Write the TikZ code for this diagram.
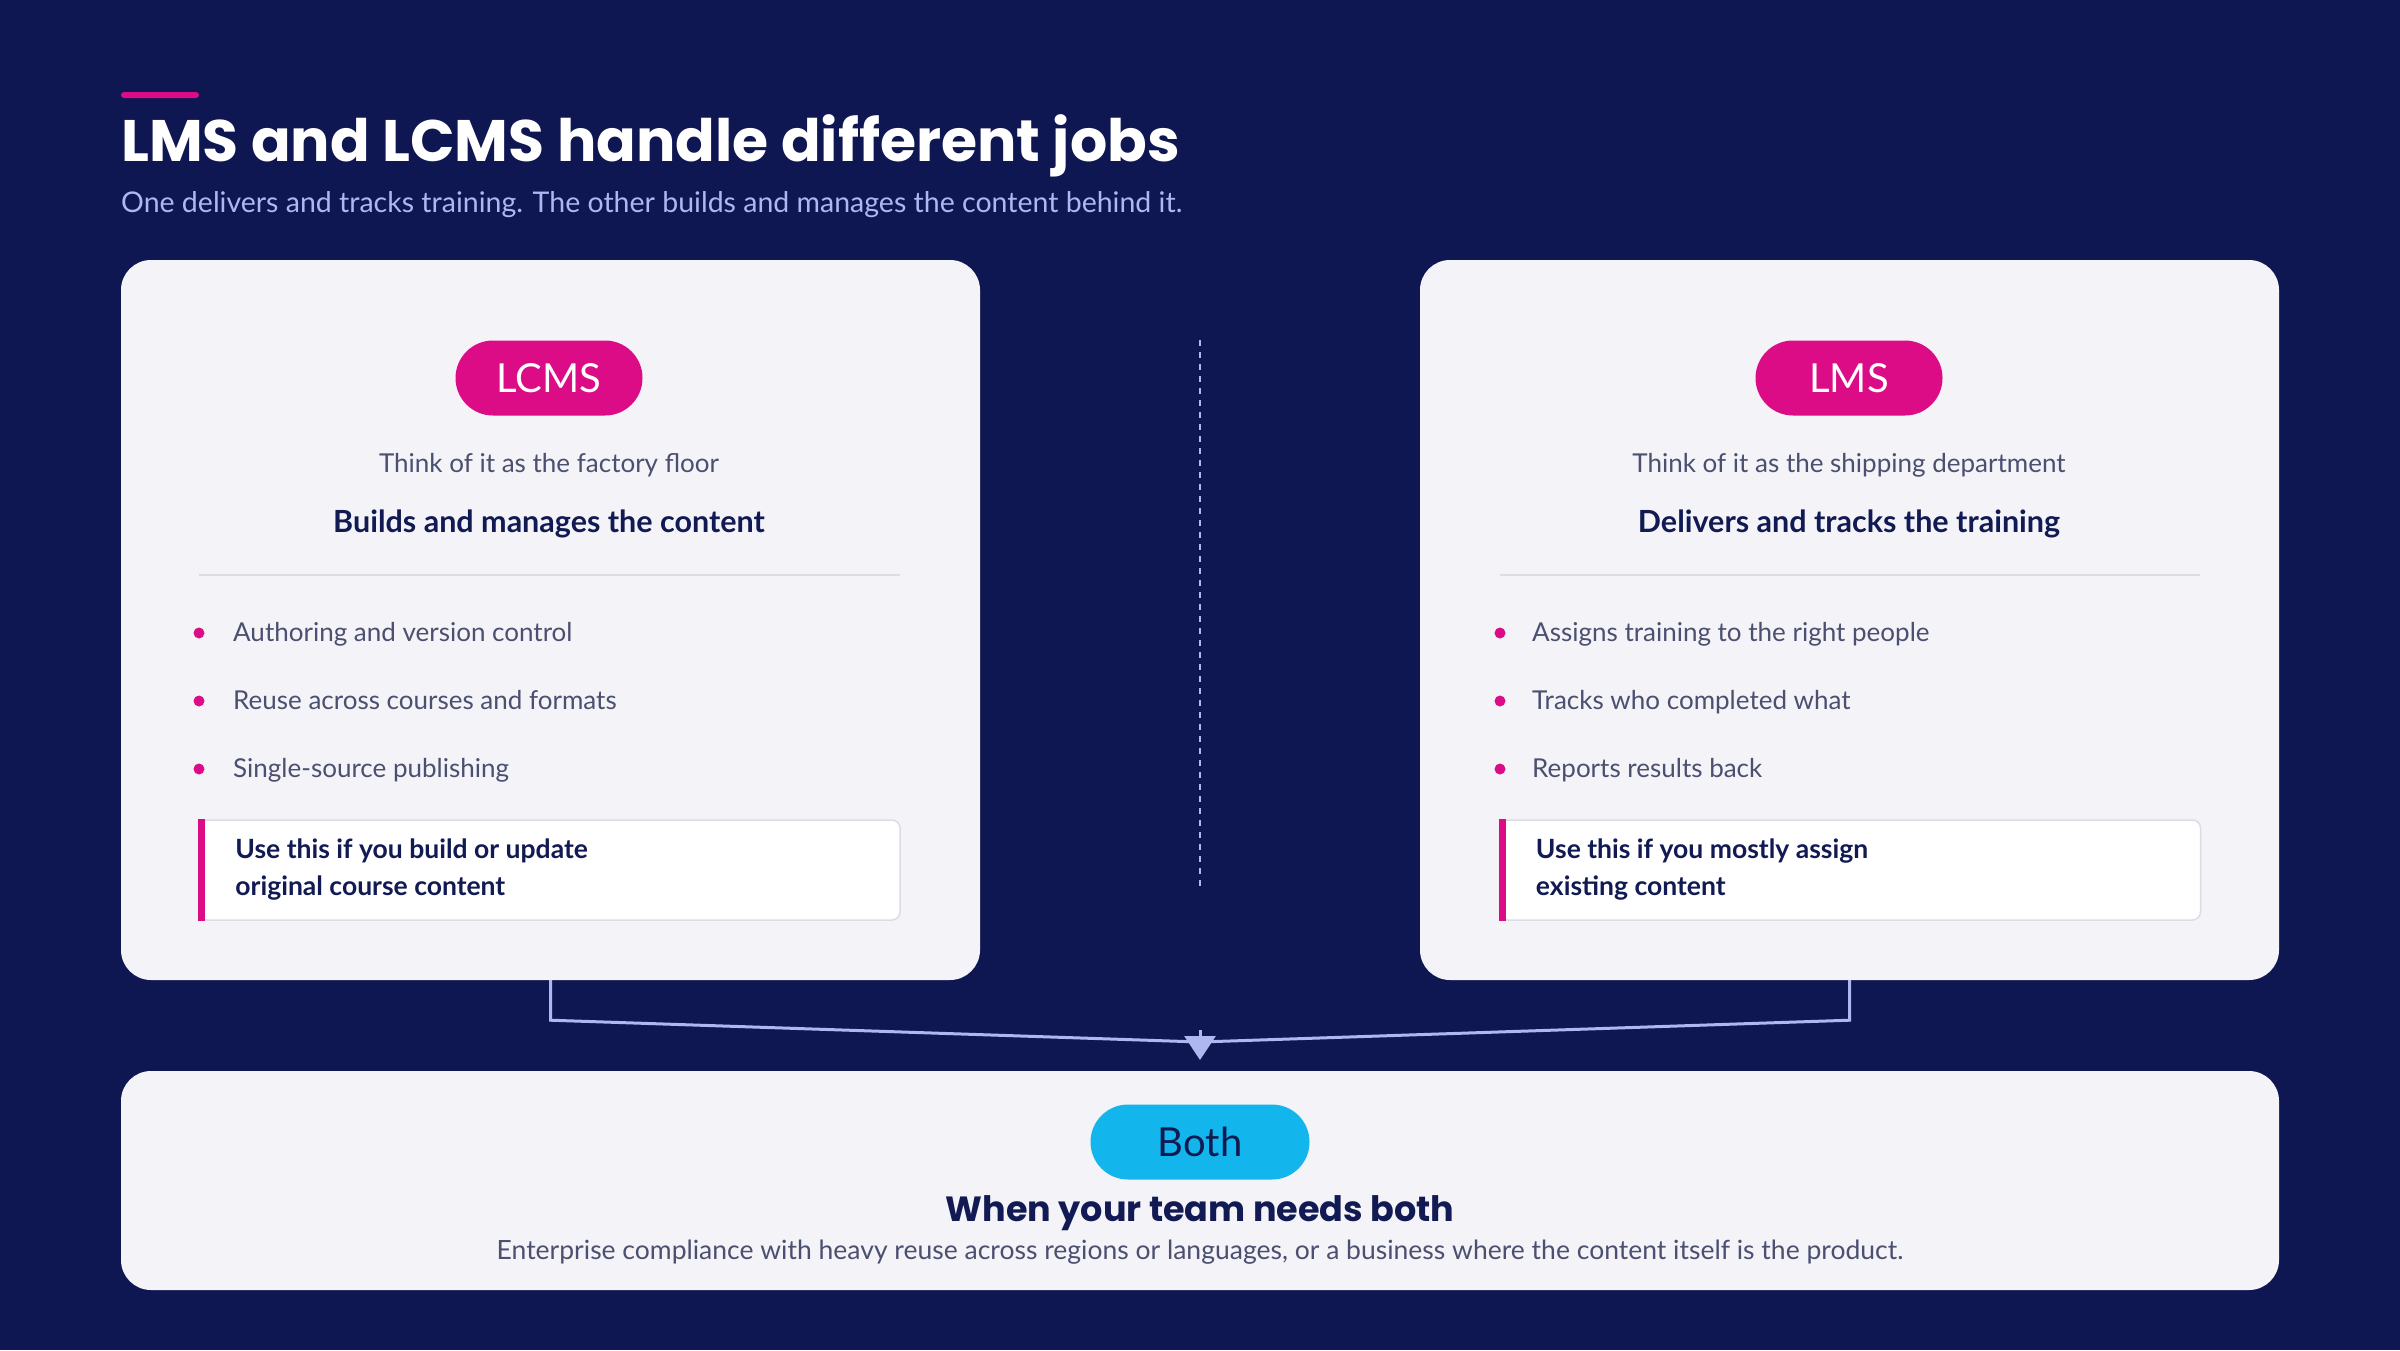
\documentclass[tikz,border=0pt]{standalone}
\usepackage{fontspec}
\setmainfont{Lato}
\newfontfamily\headfont{Poppins}
\usetikzlibrary{arrows.meta}
\definecolor{bgnavy}{HTML}{0F1752}
\definecolor{cardbg}{HTML}{F3F3F8}
\definecolor{hotpink}{HTML}{DC0C87}
\definecolor{skyblue}{HTML}{12B6EC}
\definecolor{inknavy}{HTML}{111A52}
\definecolor{inkgrey}{HTML}{4B4F70}
\definecolor{lavender}{HTML}{AEB7EF}
\definecolor{rulegrey}{HTML}{DCDCE4}
\tikzset{
  card/.style={fill=cardbg, rounded corners=30pt, inner sep=0pt},
  pill/.style={fill=hotpink, rounded corners=37.5pt, minimum height=75pt, minimum width=187pt,
    inner sep=0pt, text=white, font=\fontsize{40}{44}\selectfont},
  tagline/.style={anchor=mid, text=inkgrey, font=\fontsize{26}{30}\selectfont},
  lead/.style={anchor=mid, text=inknavy, font=\bfseries\fontsize{30.5}{34}\selectfont},
  bullet/.style={circle, fill=hotpink, inner sep=0pt, minimum size=11pt},
  item/.style={anchor=mid west, text=inkgrey, inner sep=0pt, font=\fontsize{26}{30}\selectfont},
  note/.style={fill=white, draw=rulegrey, line width=1.5pt, rounded corners=8pt,
    minimum width=701pt, minimum height=100pt, inner sep=0pt},
  notetext/.style={anchor=west, align=left, inner sep=0pt, text=inknavy,
    font=\bfseries\fontsize{26.5}{37}\selectfont},
  link/.style={draw=lavender, line width=3pt},
}
\begin{document}
\begin{tikzpicture}[x=1pt, y=-1pt]
  \fill[bgnavy] (0,0) rectangle (2400,1350);
  \useasboundingbox (0,0) rectangle (2400,1350);

  % heading
  \fill[hotpink, rounded corners=3pt] (121,92) rectangle (199,98);
  \node[anchor=base west, inner sep=0pt, text=white, font=\headfont\bfseries\fontsize{58.5}{64}\selectfont]
    (title) at (121,161) {LMS and LCMS handle different jobs};
  \node[anchor=mid west, inner sep=0pt, text=lavender, font=\fontsize{28.5}{32}\selectfont]
    (subtitle) at (121,210) {One delivers and tracks training. The other builds and manages the content behind it.};

  % cards
  \node[card, minimum width=859pt, minimum height=720pt] (lcms) at (550.5,620) {};
  \node[card, minimum width=859pt, minimum height=720pt] (lms) at (1849.5,620) {};
  \node[card, minimum width=2158pt, minimum height=219pt] (both) at (1200,1180.5) {};

  \coordinate (divtop) at (1200,340);
  \coordinate (divbot) at (1200,888);
  \draw[lavender, line width=2pt, dash pattern=on 6pt off 6pt] (divtop) -- (divbot);

  % LCMS card
  \node[pill] (lcmstag) at (549,378) {LCMS};
  \node[tagline] (lcmsthink) at (549,470) {Think of it as the factory floor};
  \node[lead] (lcmslead) at (549,530) {Builds and manages the content};
  \draw[rulegrey, line width=1.5pt] (199,575) -- (900,575);
  \node[bullet] (lb1) at (199,633) {};
  \node[item] (li1) at (233,639) {Authoring and version control};
  \node[bullet] (lb2) at (199,701) {};
  \node[item] (li2) at (233,707) {Reuse across courses and formats};
  \node[bullet] (lb3) at (199,769) {};
  \node[item] (li3) at (233,775) {Single-source publishing};
  \node[note] (lcmsnote) at (549.5,870) {};
  \fill[hotpink] (lcmsnote.north west) rectangle ([xshift=7pt]lcmsnote.south west);
  \node[notetext] (lcmsnotetext) at ([xshift=37pt]lcmsnote.west) {Use this if you build or update\\original course content};

  % LMS card
  \node[pill] (lmstag) at (1849,378) {LMS};
  \node[tagline] (lmsthink) at (1849,470) {Think of it as the shipping department};
  \node[lead] (lmslead) at (1849,530) {Delivers and tracks the training};
  \draw[rulegrey, line width=1.5pt] (1500,575) -- (2200,575);
  \node[bullet] (rb1) at (1500,633) {};
  \node[item] (ri1) at (1532,639) {Assigns training to the right people};
  \node[bullet] (rb2) at (1500,701) {};
  \node[item] (ri2) at (1532,707) {Tracks who completed what};
  \node[bullet] (rb3) at (1500,769) {};
  \node[item] (ri3) at (1532,775) {Reports results back};
  \node[note] (lmsnote) at (1850,870) {};
  \fill[hotpink] (lmsnote.north west) rectangle ([xshift=7pt]lmsnote.south west);
  \node[notetext] (lmsnotetext) at ([xshift=37pt]lmsnote.west) {Use this if you mostly assign\\existing content};

  % merge into the bottom card
  \coordinate (merge) at (1200,1042);
  \coordinate (mergetop) at (1200,1030);
  \coordinate (mergetip) at (1200,1060);
  \draw[link] (lcms.south) -- ++(0,40) -- (merge);
  \draw[link] (lms.south) -- ++(0,40) -- (merge);
  \draw[link, -{Triangle[width=31pt,length=24pt]}] (mergetop) -- (mergetip);

  % both card
  \node[pill, fill=skyblue, text=inknavy, minimum width=219pt] (bothtag) at (1200,1142) {Both};
  \node[anchor=mid, text=inknavy, font=\headfont\bfseries\fontsize{35}{39}\selectfont]
    (bothlead) at (1200,1219) {When your team needs both};
  \node[tagline, font=\fontsize{26.5}{30}\selectfont] (bothtext) at (1200,1257) {Enterprise compliance with heavy reuse across regions or languages, or a business where the content itself is the product.};
\end{tikzpicture}
\end{document}
